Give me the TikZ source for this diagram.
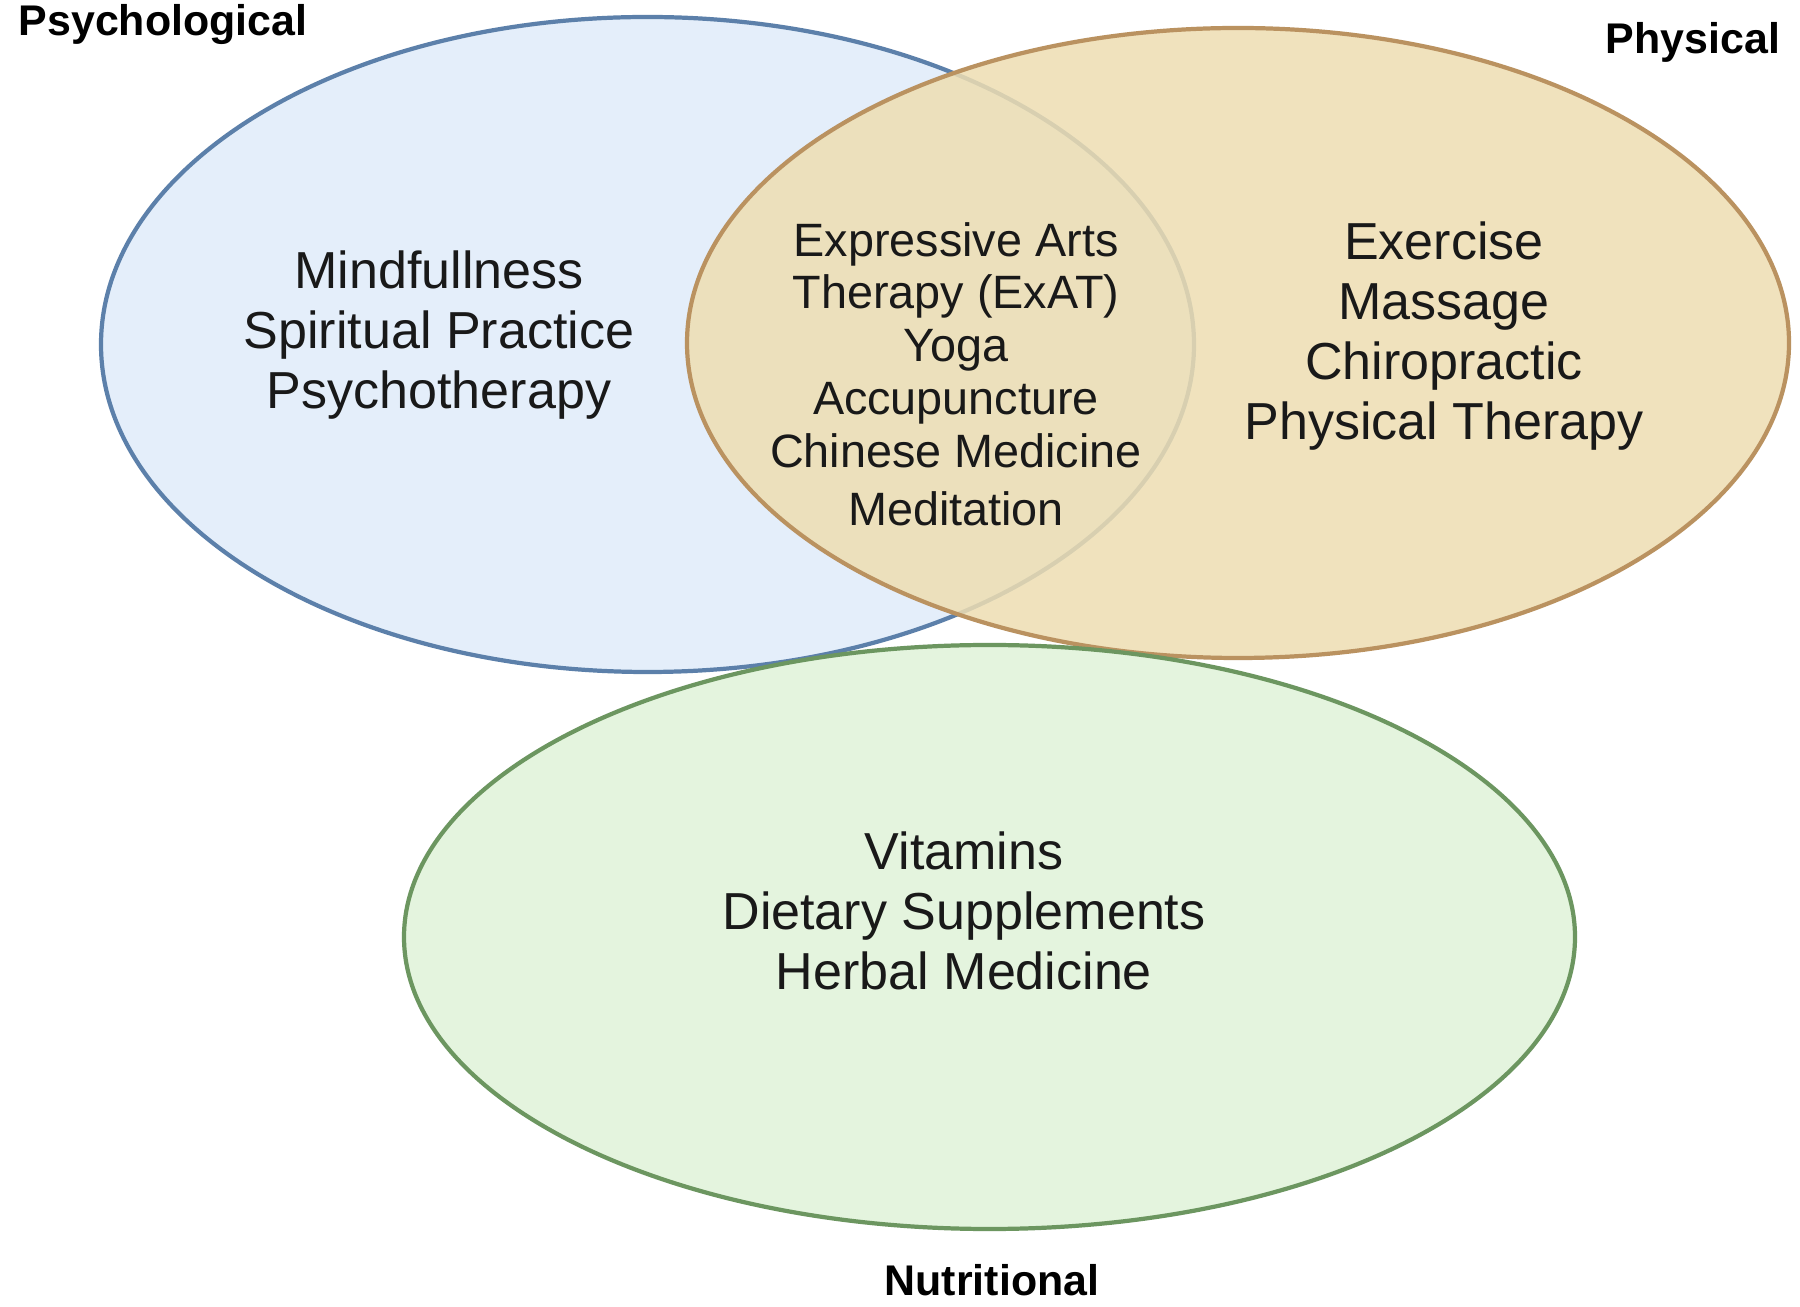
\documentclass[tikz,border=0pt]{standalone}
\usepackage{fontspec}
\setmainfont{Liberation Sans}
\definecolor{bluefill}{RGB}{228,238,250}
\definecolor{bluedraw}{RGB}{92,128,170}
\definecolor{orangefill}{RGB}{238,222,178}
\definecolor{orangedraw}{RGB}{186,146,96}
\definecolor{greenfill}{RGB}{228,244,222}
\definecolor{greendraw}{RGB}{108,150,96}
\begin{document}
\begin{tikzpicture}[x=0.01cm,y=-0.01cm,
  setshape/.style={line width=1.2pt},
  maintext/.style={align=center,font=\fontsize{14.8pt}{17.1pt}\selectfont,text=black!90},
  midtext/.style={align=center,font=\fontsize{13.3pt}{15pt}\selectfont,text=black!90},
  cornerlabel/.style={font=\bfseries\fontsize{12.2pt}{14pt}\selectfont}]
\useasboundingbox (0,0) rectangle (1800,1307);
\fill[white] (0,0) rectangle (1800,1307);
% sets
\draw[setshape,draw=bluedraw,fill=bluefill] (647.5,344.5) ellipse [x radius=546.5, y radius=327.5];
\draw[setshape,draw=orangedraw,fill=orangefill,fill opacity=0.85] (1238,343) ellipse [x radius=551, y radius=315];
\draw[setshape,draw=greendraw,fill=greenfill] (989.5,937) ellipse [x radius=585.5, y radius=292];
% texts
\node[maintext] (psy) at (439,335) {Mindfullness\\Spiritual Practice\\Psychotherapy};
\node[midtext] (mid) at (956,374) {Expressive Arts\\Therapy (ExAT)\\Yoga\\Accupuncture\\Chinese Medicine\\[1.5pt]Meditation};
\node[maintext] (phy) at (1444,336) {Exercise\\Massage\\Chiropractic\\Physical Therapy};
\node[maintext] (nut) at (964,911) {Vitamins\\Dietary Supplements\\Herbal Medicine};
% labels
\node[cornerlabel] (lpsy) at (163,25) {Psychological};
\node[cornerlabel] (lphy) at (1693,42) {Physical};
\node[cornerlabel] (lnut) at (992,1280) {Nutritional};
\end{tikzpicture}
\end{document}
